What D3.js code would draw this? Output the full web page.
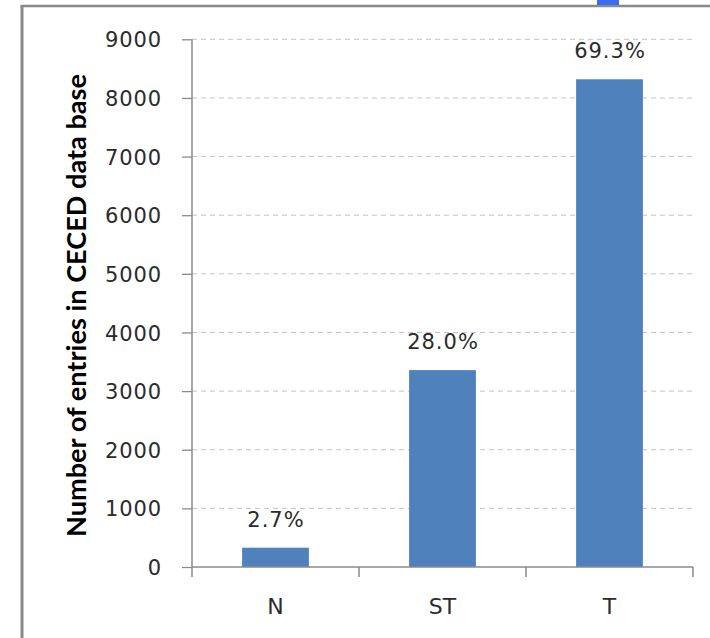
<!DOCTYPE html>
<html>
<head>
<meta charset="utf-8">
<script src="https://cdn.jsdelivr.net/npm/d3@7"></script>
<style>
  html, body { margin: 0; padding: 0; background: #ffffff; }
  svg { display: block; }
</style>
</head>
<body>
<svg id="chart" width="710" height="638"></svg>
<script>
// Entries per category in the CECED data base
const categories = ["N", "ST", "T"];
const entryCounts = [329, 3358, 8318];
const yTickValues = [0, 1000, 2000, 3000, 4000, 5000, 6000, 7000, 8000, 9000];
const yAxisTitle = "Number of entries in CECED data base";

const svg = d3.select("#chart");
const W = 710, H = 638;
const plot = { left: 192, right: 693, top: 39.3, bottom: 567 };
const textFont = "'DejaVu Sans', 'Open Sans', sans-serif";
const textColor = "#2b2b2b";
const barColor = "#4f81bd";

svg.append("rect").attr("width", W).attr("height", H).attr("fill", "#ffffff");

const x = d3.scaleBand()
  .domain(categories)
  .range([plot.left, plot.right])
  .paddingInner(0.6)
  .paddingOuter(0.3);

const y = d3.scaleLinear()
  .domain([0, 9000])
  .range([plot.bottom, plot.top]);

const total = d3.sum(entryCounts);
const data = categories.map((c, i) => ({ cat: c, value: entryCounts[i], share: entryCounts[i] / total }));

// Dashed horizontal gridlines
svg.append("g")
  .selectAll("line")
  .data(yTickValues.filter(v => v > 0))
  .join("line")
  .attr("x1", plot.left).attr("x2", plot.right)
  .attr("y1", d => y(d)).attr("y2", d => y(d))
  .attr("stroke", "#c3c3c3")
  .attr("stroke-width", 1)
  .attr("stroke-dasharray", "5,4");

// Bars
svg.append("g")
  .selectAll("rect")
  .data(data)
  .join("rect")
  .attr("x", d => x(d.cat))
  .attr("width", x.bandwidth())
  .attr("y", d => y(d.value))
  .attr("height", d => y(0) - y(d.value))
  .attr("fill", barColor);

// Y axis
const yAxis = d3.axisLeft(y)
  .tickValues(yTickValues)
  .tickFormat(d3.format("d"))
  .tickSize(10)
  .tickSizeOuter(0)
  .tickPadding(20);

const yAxisG = svg.append("g")
  .attr("transform", `translate(${plot.left},0)`)
  .call(yAxis);
yAxisG.select(".domain").remove();
yAxisG.selectAll(".tick line").attr("stroke", "#8a8a8a").attr("stroke-width", 1.3);
yAxisG.selectAll(".tick text")
  .attr("font-family", textFont)
  .attr("font-size", 21)
  .attr("letter-spacing", "0.9px")
  .attr("fill", textColor)
  .attr("dy", "0.36em");

// Vertical axis line (runs down to the category tick length)
svg.append("line")
  .attr("x1", plot.left).attr("x2", plot.left)
  .attr("y1", y(9000)).attr("y2", plot.bottom + 10)
  .attr("stroke", "#8a8a8a").attr("stroke-width", 1.5);

// Category axis baseline
svg.append("line")
  .attr("x1", plot.left).attr("x2", plot.right)
  .attr("y1", plot.bottom).attr("y2", plot.bottom)
  .attr("stroke", "#8a8a8a").attr("stroke-width", 1.5);

// Category separators
const boundaries = d3.range(categories.length + 1).map(i => plot.left + i * x.step());
svg.append("g")
  .selectAll("line")
  .data(boundaries.slice(1))
  .join("line")
  .attr("x1", d => d).attr("x2", d => d)
  .attr("y1", plot.bottom).attr("y2", plot.bottom + 10)
  .attr("stroke", "#8a8a8a").attr("stroke-width", 1.5);

// Category labels
svg.append("g")
  .selectAll("text")
  .data(categories)
  .join("text")
  .attr("x", d => x(d) + x.bandwidth() / 2)
  .attr("y", plot.bottom + 47)
  .attr("text-anchor", "middle")
  .attr("font-family", textFont)
  .attr("font-size", 22)
  .attr("fill", textColor)
  .text(d => d);

// Share labels above bars
const pct = d3.format(".1%");
svg.append("g")
  .selectAll("text")
  .data(data)
  .join("text")
  .attr("x", d => x(d.cat) + x.bandwidth() / 2 + 0.5)
  .attr("y", d => y(d.value) - 21)
  .attr("text-anchor", "middle")
  .attr("font-family", textFont)
  .attr("font-size", 21)
  .attr("letter-spacing", "1px")
  .attr("fill", textColor)
  .text(d => pct(d.share));

// Y axis title
svg.append("text")
  .attr("transform", "translate(86,305.5) rotate(-90)")
  .attr("text-anchor", "middle")
  .attr("font-family", "Lato, 'Open Sans', sans-serif")
  .attr("font-weight", "bold")
  .attr("font-size", 26)
  .attr("textLength", 463)
  .attr("lengthAdjust", "spacingAndGlyphs")
  .attr("fill", "#000000")
  .text(yAxisTitle);

// Outer frame (left and top edges)
svg.append("line")
  .attr("x1", 22).attr("x2", 22).attr("y1", 6).attr("y2", H)
  .attr("stroke", "#8a8a8a").attr("stroke-width", 3);
svg.append("line")
  .attr("x1", 20.5).attr("x2", W).attr("y1", 6).attr("y2", 6)
  .attr("stroke", "#8a8a8a").attr("stroke-width", 2.5);

// Small blue marker at the top edge
svg.append("rect")
  .attr("x", 597).attr("y", 0).attr("width", 22).attr("height", 5)
  .attr("fill", "#3d6cf2");
</script>
</body>
</html>
